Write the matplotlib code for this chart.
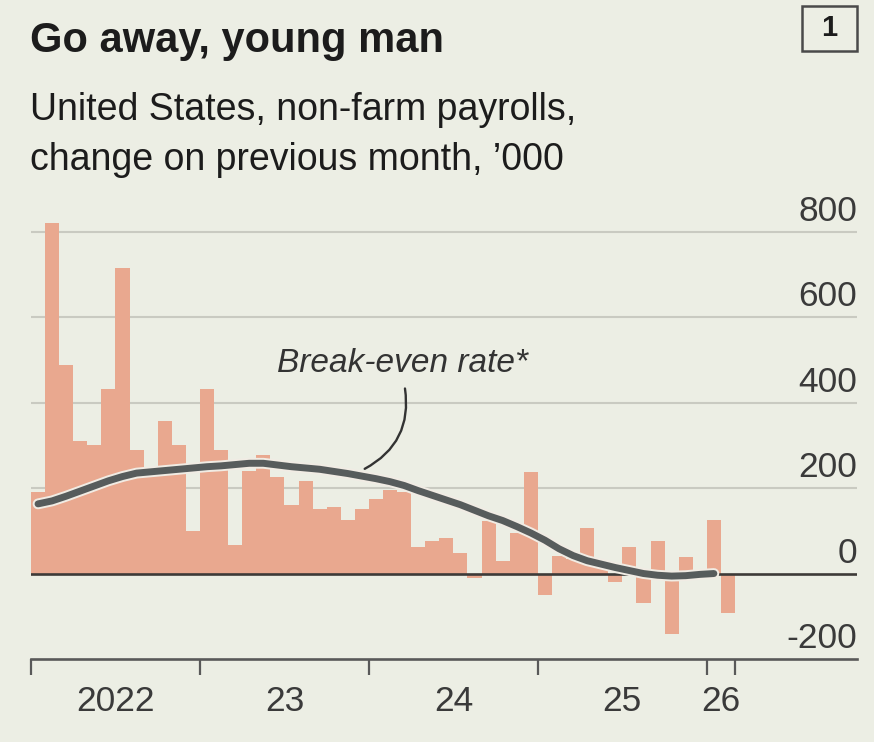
import matplotlib
matplotlib.use("Agg")
import matplotlib.pyplot as plt
import matplotlib.patheffects as pe
import matplotlib.transforms as mtransforms
from matplotlib.patches import Rectangle
from matplotlib import font_manager
import numpy as np
import pandas as pd

# ---------------- data ----------------
months = pd.period_range("2022-01", "2026-02", freq="M").strftime("%Y-%m").tolist()

payrolls = [190, 820, 489, 310, 300, 431, 716, 289, 240, 356, 301, 100,   # 2022
            432, 289, 67, 240, 278, 225, 161, 216, 151, 156, 125, 152,     # 2023
            174, 196, 190, 63, 77, 84, 49, -10, 124, 30, 96, 237,          # 2024
            -50, 40, 35, 106, 15, -19, 63, -70, 75, -142, 39, -10,         # 2025
            125, -93]                                                      # 2026

breakeven = [163, 170, 181, 193, 205, 217, 227, 235, 238, 241, 244, 247,
             250, 252, 255, 258, 258, 254, 250, 247, 244, 239, 234, 228,
             222, 215, 206, 194, 183, 172, 161, 148, 135, 124, 110, 95,
             78, 58, 42, 30, 22, 14, 7, 0, -4, -6, -5, -2,
             0]

year_labels = ["2022", "23", "24", "25", "26"]
year_label_pos = [6, 18, 30, 42, 49]
year_ticks = [0, 12, 24, 36, 48, 50]
y_gridvals = [200, 400, 600, 800]
y_labelvals = [800, 600, 400, 200, 0, -200]

# ---------------- style ----------------
BG = "#eceee4"
BAR = "#e9a88f"
GRID = "#c9cac1"
ZERO = "#3d3a38"
AXIS = "#595959"
LINE = "#575c5c"
TXT = "#1c1c1c"
TICKTXT = "#3a3a3a"

avail = {f.name for f in font_manager.fontManager.ttflist}
FONT = "Liberation Sans" if "Liberation Sans" in avail else "DejaVu Sans"
plt.rcParams["font.family"] = [FONT, "DejaVu Sans"]

W, H = 874, 742
fig = plt.figure(figsize=(W / 100, H / 100), dpi=100, facecolor=BG)

ax_left, ax_right = 31, 857
ax_bottom, ax_top = 659, 210.3
ax = fig.add_axes([ax_left / W, 1 - ax_bottom / H,
                   (ax_right - ax_left) / W, (ax_bottom - ax_top) / H])
ax.set_facecolor(BG)

n = len(payrolls)
x = np.arange(n) + 0.5
ax.bar(x, payrolls, width=1.0, color=BAR, linewidth=0, zorder=2)

ax.set_xlim(0, (ax_right - ax_left) / 14.08)
ax.set_ylim(-200, 850)

for g in y_gridvals:
    ax.axhline(g, color=GRID, lw=1.5, zorder=1)
ax.axhline(0, color=ZERO, lw=1.9, zorder=3)

# break-even line with halo
xb = np.arange(len(breakeven)) + 0.5
ax.plot(xb, breakeven, color=LINE, lw=5.0, solid_capstyle="round", zorder=5,
        path_effects=[pe.Stroke(linewidth=7.8, foreground="#f1ece4"), pe.Normal()])

# spines
for s in ["top", "right", "left"]:
    ax.spines[s].set_visible(False)
ax.spines["bottom"].set_color(AXIS)
ax.spines["bottom"].set_linewidth(1.9)

ax.set_yticks([])
ax.set_xticks(year_ticks)
ax.set_xticklabels([])
ax.tick_params(axis="x", which="major", length=11.5, width=1.6, color=AXIS, direction="out")
ax.set_xticks(year_label_pos, minor=True)
ax.set_xticklabels(year_labels, minor=True)
ax.tick_params(axis="x", which="minor", length=0, pad=19, labelsize=25.5, labelcolor=TICKTXT)

# y labels above gridlines, right aligned
trans = mtransforms.blended_transform_factory(ax.transAxes, ax.transData)
trans = mtransforms.offset_copy(trans, fig=fig, x=0, y=11, units="dots")
for v in y_labelvals:
    ax.text(1.0, v, f"{v}", transform=trans, ha="right", va="baseline",
            fontsize=25.5, color=TICKTXT, zorder=6)

# annotation
ax.text(26.4, 471, "Break-even rate*", style="italic", ha="center", va="baseline",
        fontsize=24, color="#333333", zorder=6)
ax.annotate("", xy=(23.7, 245), xytext=(26.56, 433),
            arrowprops=dict(arrowstyle="-", color="#333333", lw=1.7,
                            connectionstyle="arc3,rad=-0.35",
                            shrinkA=0, shrinkB=0), zorder=6)

# titles
fig.text(30 / W, 1 - 51.7 / H, "Go away, young man", fontsize=30, fontweight="bold",
         color=TXT, ha="left", va="baseline")
fig.text(30 / W, 1 - 120.5 / H, "United States, non-farm payrolls,", fontsize=27,
         color=TXT, ha="left", va="baseline")
fig.text(30 / W, 1 - 170 / H, "change on previous month, \u2019000", fontsize=27,
         color=TXT, ha="left", va="baseline")

# chart number box
fig.patches.append(Rectangle((802 / W, 1 - 51 / H), 55 / W, 45 / H,
                             transform=fig.transFigure, fill=False,
                             edgecolor="#4a4a4a", lw=1.8))
fig.text(829.5 / W, 1 - 28.5 / H, "1", fontsize=21, fontweight="bold",
         color=TXT, ha="center", va="center")

fig.savefig("out.png", dpi=100, facecolor=BG)
